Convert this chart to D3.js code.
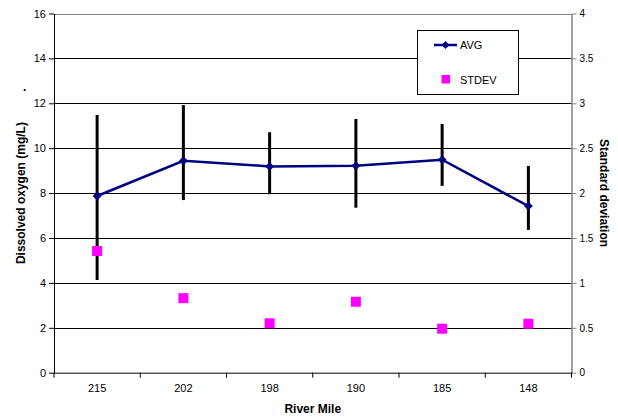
<!DOCTYPE html>
<html><head><meta charset="utf-8">
<script src="https://cdn.jsdelivr.net/npm/d3@7"></script>
<style>body{margin:0;background:#fff}svg{display:block}text{font-family:"Liberation Sans",Arial,sans-serif}</style>
</head><body><svg id="c" width="618" height="419"></svg>
<script>
const categories = ["215","202","198","190","185","148"];
const avg = [7.87, 9.44, 9.19, 9.22, 9.49, 7.42];
const errHigh = [11.48, 11.92, 10.71, 11.30, 11.08, 9.21];
const errLow = [4.13, 7.69, 7.95, 7.35, 8.32, 6.36];
const stdev = [1.355, 0.83, 0.55, 0.79, 0.49, 0.545];
const leftTicks = [0,2,4,6,8,10,12,14,16];
const rightTicks = [0,0.5,1,1.5,2,2.5,3,3.5,4];

const svg = d3.select("#c");
const L = 54, R = 571.5, T = 13.5, B = 372.7;
const x = d3.scaleBand().domain(categories).range([L, R]);
const y = d3.scaleLinear().domain([0,16]).range([B, T]);
const y2 = d3.scaleLinear().domain([0,4]).range([B, T]);
const cx = c => x(c) + x.bandwidth()/2;

// gridlines
svg.append("g").selectAll("line").data(leftTicks.slice(1)).join("line")
  .attr("x1", L).attr("x2", R).attr("y1", d => Math.round(y(d))+0.5).attr("y2", d => Math.round(y(d))+0.5)
  .attr("stroke", d => d === 16 ? "#808080" : "#000").attr("stroke-width", 1);

// left axis
const ga = svg.append("g").attr("transform", `translate(${L},0)`)
  .call(d3.axisLeft(y).tickValues(leftTicks).tickSize(5).tickPadding(3).tickSizeOuter(0));
ga.select(".domain").attr("stroke", "#000");
ga.selectAll("text").attr("font-size", 11).attr("fill", "#000");

// right axis
const gr = svg.append("g").attr("transform", `translate(${R},0)`)
  .call(d3.axisRight(y2).tickValues(rightTicks).tickSize(5).tickPadding(3).tickSizeOuter(0).tickFormat(d3.format("")));
gr.select(".domain").attr("stroke", "#808080").attr("stroke-width", 1.5);
gr.selectAll("line").attr("stroke", "#808080");
gr.selectAll("text").attr("font-size", 10).attr("fill", "#000");

// bottom axis
const gb = svg.append("g").attr("transform", `translate(0,${B})`)
  .call(d3.axisBottom(x).tickSize(0).tickPadding(12));
gb.select(".domain").attr("stroke", "#000");
gb.selectAll("text").attr("font-size", 11).attr("fill", "#000");
svg.append("g").selectAll("line").data(d3.range(categories.length+1)).join("line")
  .attr("x1", i => L + i*x.step()).attr("x2", i => L + i*x.step())
  .attr("y1", B).attr("y2", B+5).attr("stroke", "#000");

// error bars
svg.append("g").selectAll("line").data(categories).join("line")
  .attr("x1", cx).attr("x2", cx)
  .attr("y1", (d,i) => y(errHigh[i])).attr("y2", (d,i) => y(errLow[i]))
  .attr("stroke", "#000").attr("stroke-width", 3);

// avg line
const line = d3.line().x((d,i) => cx(categories[i])).y(d => y(d));
svg.append("path").datum(avg).attr("d", line).attr("fill", "none")
  .attr("stroke", "#000080").attr("stroke-width", 2.5);
svg.append("g").selectAll("path").data(avg).join("path")
  .attr("d", d3.symbol(d3.symbolDiamond2, 50)())
  .attr("transform", (d,i) => `translate(${cx(categories[i])},${y(d)})`)
  .attr("fill", "#000080");

// stdev squares
svg.append("g").selectAll("rect").data(stdev).join("rect")
  .attr("x", (d,i) => cx(categories[i]) - 5).attr("y", d => y2(d) - 5)
  .attr("width", 10).attr("height", 10).attr("fill", "#FF00FF");

// legend
const lg = svg.append("g");
lg.append("rect").attr("x", 417.5).attr("y", 30.5).attr("width", 101).attr("height", 64)
  .attr("fill", "#fff").attr("stroke", "#000").attr("stroke-width", 1);
lg.append("line").attr("x1", 434).attr("x2", 457).attr("y1", 45).attr("y2", 45).attr("stroke", "#000080").attr("stroke-width", 2.5);
lg.append("path").attr("d", d3.symbol(d3.symbolDiamond2, 40)()).attr("transform", "translate(445.5,45)").attr("fill", "#000080");
lg.append("text").attr("x", 460).attr("y", 49).attr("font-size", 11).text("AVG");
lg.append("rect").attr("x", 441.5).attr("y", 75).attr("width", 8.5).attr("height", 8.5).attr("fill", "#FF00FF");
lg.append("text").attr("x", 460).attr("y", 83.5).attr("font-size", 11).text("STDEV");

// titles
svg.append("text").attr("x", (L+R)/2).attr("y", 412.5).attr("text-anchor", "middle")
  .attr("font-size", 12).attr("font-weight", "bold").text("River Mile");
svg.append("text").attr("transform", `translate(25,${(T+B)/2}) rotate(-90)`).attr("text-anchor", "middle")
  .attr("font-size", 12).attr("font-weight", "bold").text("Dissolved oxygen (mg/L)");
svg.append("text").attr("x", 23).attr("y", 91).attr("font-size", 12).attr("font-weight", "bold").text(".");
svg.append("text").attr("transform", `translate(600,${(T+B)/2}) rotate(90)`).attr("text-anchor", "middle")
  .attr("font-size", 12).attr("font-weight", "bold").text("Standard deviation");
</script></body></html>
